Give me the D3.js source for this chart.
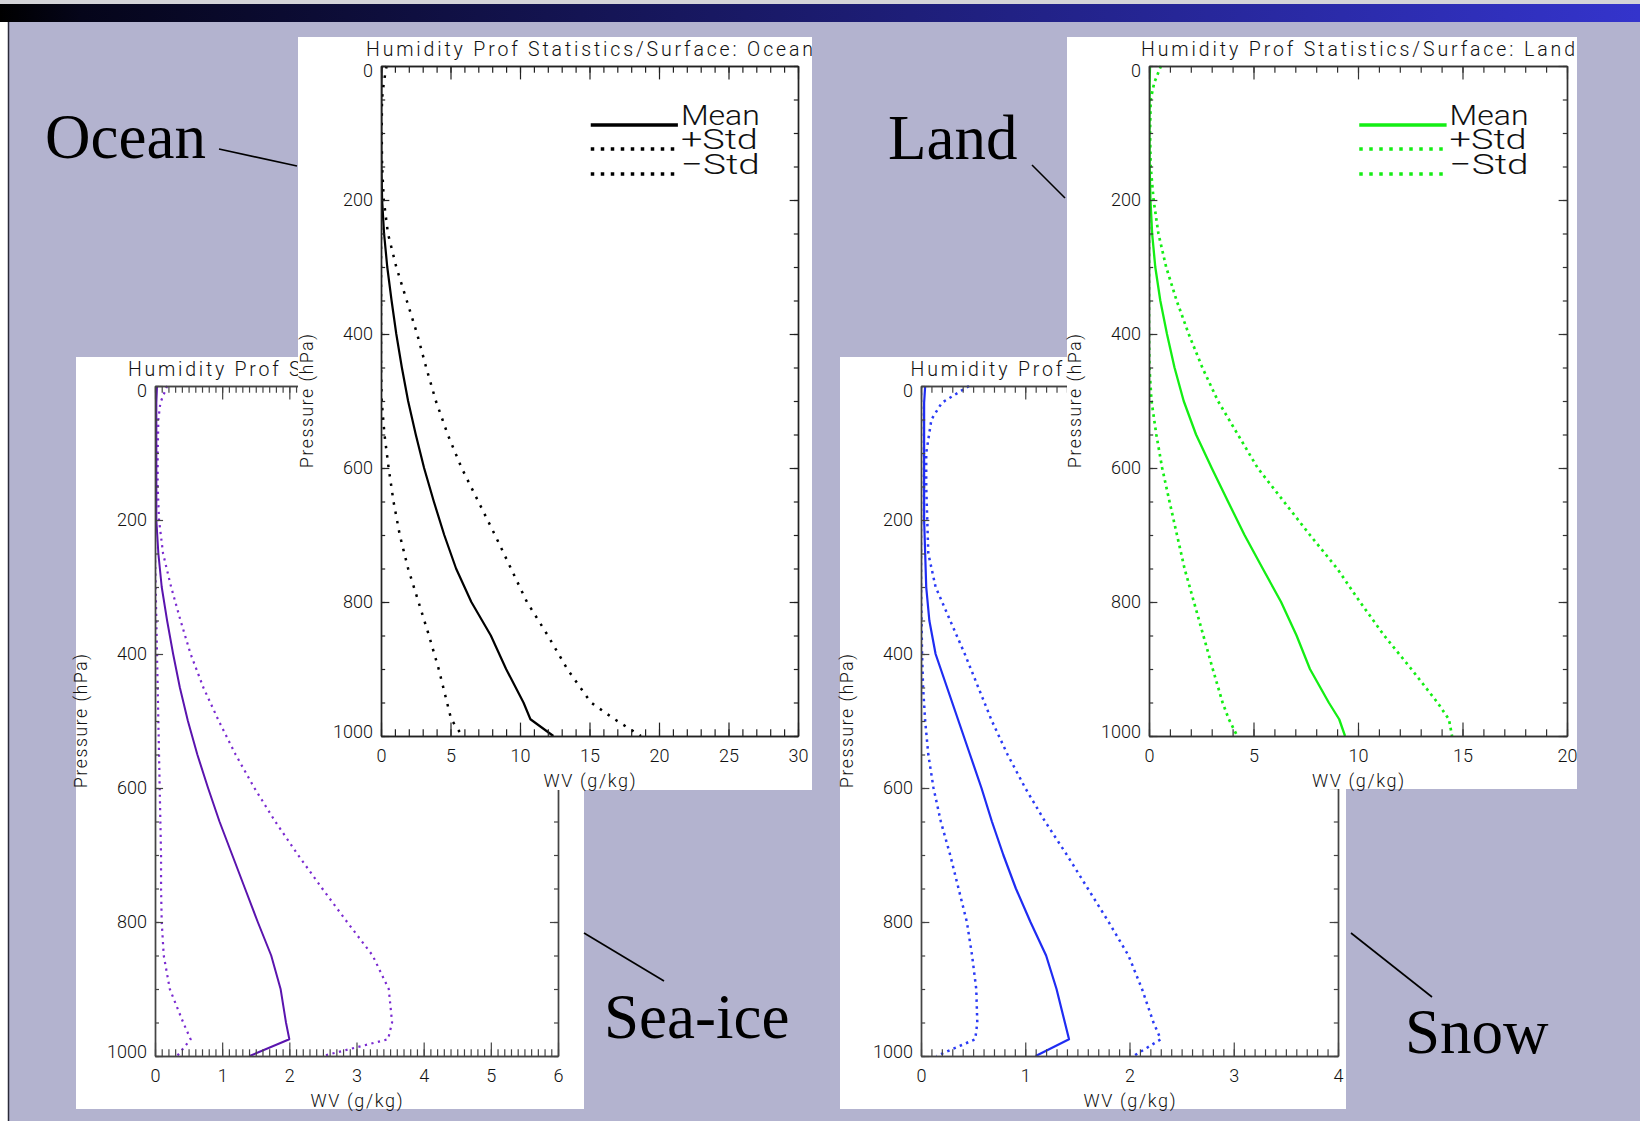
<!DOCTYPE html>
<html>
<head>
<meta charset="utf-8">
<script src="https://cdn.jsdelivr.net/npm/d3@7"></script>
<style>
  html, body { margin: 0; padding: 0; background: #ffffff; overflow: hidden; }
  svg { display: block; }
</style>
</head>
<body>
<svg id="slide" width="1640" height="1121"></svg>
<script>
// Pressure levels (hPa) shared by every humidity profile
const pressureLevels = [0, 25, 50, 100, 150, 200, 250, 300, 350, 400, 450, 500, 550, 600, 650, 700, 750, 800, 850, 900, 950, 975, 1000];

// Water vapour mixing ratio (g/kg) at each level: mean and mean ± one standard deviation
const oceanMean  = [0.05, 0.03, 0.02, 0.02, 0.03, 0.08, 0.22, 0.45, 0.76, 1.1, 1.5, 1.95, 2.5, 3.1, 3.8, 4.55, 5.4, 6.5, 7.9, 9.0, 10.25, 10.75, 12.4];
const oceanPlus  = [0.4, 0.2, 0.07, 0.05, 0.08, 0.2, 0.5, 1.1, 1.85, 2.6, 3.25, 3.95, 4.8, 5.8, 7.0, 8.2, 9.35, 10.5, 12.0, 13.4, 15.1, 16.8, 18.7];
const oceanMinus = [0, 0, 0, 0, 0, 0, 0, 0, 0, 0, 0, 0.05, 0.25, 0.55, 0.9, 1.35, 1.95, 2.7, 3.45, 4.15, 4.75, 5.05, 5.85];

const landMean  = [0.05, 0.03, 0.02, 0.02, 0.03, 0.07, 0.15, 0.3, 0.54, 0.86, 1.22, 1.66, 2.25, 3.0, 3.78, 4.57, 5.44, 6.32, 7.06, 7.7, 8.6, 9.1, 9.38];
const landPlus  = [0.57, 0.25, 0.08, 0.05, 0.08, 0.22, 0.45, 0.82, 1.32, 1.9, 2.55, 3.3, 4.25, 5.2, 6.45, 7.7, 9.0, 10.1, 11.25, 12.55, 13.8, 14.35, 14.5];
const landMinus = [0, 0, 0, 0, 0, 0, 0, 0, 0, 0, 0.02, 0.12, 0.35, 0.63, 0.98, 1.34, 1.7, 2.15, 2.6, 3.05, 3.52, 3.82, 4.22];

const seaIceMean  = [0.03, 0.02, 0.02, 0.02, 0.02, 0.02, 0.05, 0.1, 0.18, 0.27, 0.37, 0.49, 0.63, 0.79, 0.96, 1.15, 1.34, 1.53, 1.73, 1.87, 1.95, 2.0, 1.41];
const seaIcePlus  = [0.18, 0.08, 0.05, 0.04, 0.04, 0.06, 0.12, 0.24, 0.38, 0.53, 0.72, 0.95, 1.2, 1.48, 1.79, 2.13, 2.49, 2.86, 3.24, 3.48, 3.53, 3.47, 2.5];
const seaIceMinus = [0, 0, 0, 0, 0, 0, 0, 0.01, 0.02, 0.03, 0.04, 0.05, 0.06, 0.07, 0.08, 0.09, 0.09, 0.1, 0.13, 0.22, 0.42, 0.53, 0.33];

const snowMean  = [0.04, 0.03, 0.03, 0.03, 0.03, 0.03, 0.04, 0.05, 0.08, 0.14, 0.25, 0.36, 0.47, 0.58, 0.68, 0.79, 0.91, 1.05, 1.2, 1.3, 1.38, 1.42, 1.1];
const snowPlus  = [0.46, 0.2, 0.1, 0.05, 0.05, 0.06, 0.07, 0.14, 0.28, 0.42, 0.55, 0.68, 0.83, 1.0, 1.19, 1.4, 1.6, 1.8, 1.99, 2.12, 2.23, 2.3, 2.04];
const snowMinus = [0, 0, 0, 0, 0, 0, 0, 0, 0.005, 0.01, 0.02, 0.04, 0.07, 0.12, 0.19, 0.28, 0.36, 0.44, 0.49, 0.53, 0.54, 0.52, 0.15];

// Axis ticks
const pressureTicks = [0, 200, 400, 600, 800, 1000];
const pressureMinorTicks = d3.range(0, 1001, 50);
const oceanWvTicks  = [0, 5, 10, 15, 20, 25, 30];
const landWvTicks   = [0, 5, 10, 15, 20];
const seaIceWvTicks = [0, 1, 2, 3, 4, 5, 6];
const snowWvTicks   = [0, 1, 2, 3, 4];

// Legend and axis texts
const legendLabels = ["Mean", "+Std", "\u2212Std"];
const surfaceNames = { ocean: "Ocean", land: "Land", seaIce: "Sea-ice", snow: "Snow" };
const titlePrefix = "Humidity Prof Statistics/Surface: ";
const xAxisTitle = "WV (g/kg)";
const yAxisTitle = "Pressure (hPa)";

const plotFont = "Roboto, 'Liberation Sans', 'DejaVu Sans', sans-serif";
const labelFont = "'Liberation Serif', 'Times New Roman', serif";

const svg = d3.select("#slide");
const defs = svg.append("defs");

// ---- slide background ----
const grad = defs.append("linearGradient").attr("id", "topbar").attr("x1", "0%").attr("x2", "100%");
grad.append("stop").attr("offset", "0%").attr("stop-color", "#000000");
grad.append("stop").attr("offset", "5%").attr("stop-color", "#05051a");
grad.append("stop").attr("offset", "100%").attr("stop-color", "#3434cc");

svg.append("rect").attr("x", 0).attr("y", 0).attr("width", 1640).attr("height", 1121).attr("fill", "#ffffff");
svg.append("rect").attr("x", 0).attr("y", 0).attr("width", 1640).attr("height", 4).attr("fill", "#d4d4d8");
svg.append("rect").attr("x", 0).attr("y", 4).attr("width", 1640).attr("height", 18).attr("fill", "url(#topbar)");
svg.append("rect").attr("x", 9).attr("y", 22).attr("width", 1631).attr("height", 1099).attr("fill", "#b3b3cf");
svg.append("line").attr("x1", 8.5).attr("x2", 8.5).attr("y1", 22).attr("y2", 1121)
  .attr("stroke", "#2a2a3a").attr("stroke-width", 1.5);

// ---- one profile panel ----
function drawPanel(cfg) {
  const g = svg.append("g");
  const P = cfg.plot;

  g.append("rect")
    .attr("x", cfg.panel.x).attr("y", cfg.panel.y)
    .attr("width", cfg.panel.w).attr("height", cfg.panel.h)
    .attr("fill", "#ffffff");

  const x = d3.scaleLinear().domain([0, cfg.xMax]).range([P.l, P.r]);
  const y = d3.scaleLinear().domain([0, 1000]).range([P.t, P.b]);
  const W = P.r - P.l;

  // title (clipped where a neighbouring panel covers it)
  const titleClip = "tclip-" + cfg.key;
  defs.append("clipPath").attr("id", titleClip)
    .append("rect").attr("x", cfg.panel.x).attr("y", cfg.panel.y)
    .attr("width", cfg.titleVisible).attr("height", 40);
  g.append("text")
    .attr("clip-path", `url(#${titleClip})`)
    .attr("x", (P.l + P.r) / 2).attr("y", P.t - 10)
    .attr("text-anchor", "middle")
    .attr("textLength", cfg.titleWidth).attr("lengthAdjust", "spacing")
    .attr("font-family", plotFont).attr("font-weight", 300)
    .attr("font-size", 19.5).attr("fill", "#111")
    .text(titlePrefix + cfg.name);

  // profiles
  const clipId = "clip-" + cfg.key;
  defs.append("clipPath").attr("id", clipId)
    .append("rect").attr("x", P.l).attr("y", P.t - 2).attr("width", W + 1).attr("height", P.b - P.t + 3);

  const line = d3.line()
    .x(d => x(d.v))
    .y(d => y(d.p));
  const toPoints = arr => arr.map((v, i) => ({ p: pressureLevels[i], v }));

  const curves = g.append("g").attr("clip-path", `url(#${clipId})`).attr("fill", "none");
  [cfg.minus, cfg.plus].forEach(arr => {
    curves.append("path")
      .attr("d", line(toPoints(arr)))
      .attr("stroke", cfg.dotColor)
      .attr("stroke-width", cfg.dotWidth)
      .attr("stroke-dasharray", cfg.dash)
      .attr("stroke-linecap", "butt");
  });
  curves.append("path")
    .attr("d", line(toPoints(cfg.mean)))
    .attr("stroke", cfg.color)
    .attr("stroke-width", cfg.meanWidth)
    .attr("stroke-linejoin", "round");

  // axes (ticks pointing inwards on all four sides)
  const xMinor = d3.range(0, cfg.xMax + cfg.minorStep / 2, cfg.minorStep);
  const axisColor = cfg.axisColor;
  const styleAxis = sel => {
    sel.select(".domain").attr("stroke", axisColor).attr("stroke-width", 1.4);
    sel.selectAll(".tick line").attr("stroke", axisColor).attr("stroke-width", 1.2);
    sel.selectAll(".tick text").attr("fill", "#111").attr("font-size", 18)
      .attr("font-family", plotFont).attr("font-weight", 300);
    sel.attr("font-family", null).attr("font-size", null);
  };

  g.append("g").attr("transform", `translate(0,${P.b})`)
    .call(d3.axisBottom(x).tickValues(xMinor).tickSize(-6.7).tickSizeOuter(0).tickFormat(""))
    .call(styleAxis);
  g.append("g").attr("transform", `translate(0,${P.b})`)
    .call(d3.axisBottom(x).tickValues(cfg.xTicks).tickSize(-13.4).tickSizeOuter(0).tickPadding(13).tickFormat(d3.format("d")))
    .call(styleAxis);
  g.append("g").attr("transform", `translate(0,${P.t})`)
    .call(d3.axisTop(x).tickValues(xMinor).tickSize(-6.7).tickSizeOuter(0).tickFormat(""))
    .call(styleAxis);
  g.append("g").attr("transform", `translate(0,${P.t})`)
    .call(d3.axisTop(x).tickValues(cfg.xTicks).tickSize(-13.4).tickSizeOuter(0).tickFormat(""))
    .call(styleAxis);

  const yLen = W * 0.02;
  g.append("g").attr("transform", `translate(${P.l},0)`)
    .call(d3.axisLeft(y).tickValues(pressureMinorTicks).tickSize(-yLen / 2).tickSizeOuter(0).tickFormat(""))
    .call(styleAxis);
  const yAxis = g.append("g").attr("transform", `translate(${P.l},0)`)
    .call(d3.axisLeft(y).tickValues(pressureTicks).tickSize(-yLen).tickSizeOuter(0).tickPadding(8).tickFormat(d3.format("d")))
    .call(styleAxis);
  // end labels sit just inside the axis range
  yAxis.selectAll(".tick text").attr("dy", d => d === 0 ? "0.6em" : d === 1000 ? "0.1em" : "0.32em");
  g.append("g").attr("transform", `translate(${P.r},0)`)
    .call(d3.axisRight(y).tickValues(pressureMinorTicks).tickSize(-yLen / 2).tickSizeOuter(0).tickFormat(""))
    .call(styleAxis);
  g.append("g").attr("transform", `translate(${P.r},0)`)
    .call(d3.axisRight(y).tickValues(pressureTicks).tickSize(-yLen).tickSizeOuter(0).tickFormat(""))
    .call(styleAxis);

  // axis titles
  g.append("text")
    .attr("x", (P.l + P.r) / 2).attr("y", P.b + 51)
    .attr("text-anchor", "middle")
    .attr("textLength", 92).attr("lengthAdjust", "spacing")
    .attr("font-family", plotFont).attr("font-weight", 300)
    .attr("font-size", 18).attr("fill", "#111")
    .text(xAxisTitle);
  g.append("text")
    .attr("transform", `translate(${P.l - 68},${(P.t + P.b) / 2}) rotate(-90)`)
    .attr("text-anchor", "middle")
    .attr("textLength", 134).attr("lengthAdjust", "spacing")
    .attr("font-family", plotFont).attr("font-weight", 300)
    .attr("font-size", 17.5).attr("fill", "#111")
    .text(yAxisTitle);

  // legend (only where it is not covered by a neighbouring panel)
  if (cfg.legend) {
    const lx1 = P.l + 0.503 * W, lx2 = P.l + 0.712 * W;
    const rows = [59, 83, 108];
    const widths = [79, 77, 79];
    legendLabels.forEach((lab, i) => {
      const ly = P.t + rows[i];
      g.append("line")
        .attr("x1", lx1).attr("x2", lx2).attr("y1", ly).attr("y2", ly)
        .attr("stroke", i === 0 ? cfg.color : cfg.dotColor)
        .attr("stroke-width", 3.5)
        .attr("stroke-dasharray", i === 0 ? null : "3.5,6.5");
      g.append("text")
        .attr("x", lx2 + 3).attr("y", ly)
        .attr("textLength", widths[i]).attr("lengthAdjust", "spacingAndGlyphs")
        .attr("font-family", plotFont).attr("font-weight", 300)
        .attr("font-size", 28).attr("fill", "#111")
        .text(lab);
    });
  }
}

// Lower panels first, the upper ones overlap them
const panels = [
  { key: "seaIce", name: surfaceNames.seaIce, mean: seaIceMean, plus: seaIcePlus, minus: seaIceMinus,
    panel: { x: 76, y: 357, w: 508, h: 752 }, plot: { l: 155, t: 386, r: 558, b: 1056 },
    xMax: 6, xTicks: seaIceWvTicks, minorStep: 0.1, titleWidth: 457, titleVisible: 222, legend: false,
    color: "#5a14ae", dotColor: "#7a2ad0", meanWidth: 2, dotWidth: 2.2, dash: "2.2,4.5", axisColor: "#444" },
  { key: "snow", name: surfaceNames.snow, mean: snowMean, plus: snowPlus, minus: snowMinus,
    panel: { x: 840, y: 357, w: 506, h: 752 }, plot: { l: 921, t: 386, r: 1338, b: 1056 },
    xMax: 4, xTicks: snowWvTicks, minorStep: 0.1, titleWidth: 438, titleVisible: 227, legend: false,
    color: "#1f2cf2", dotColor: "#2a3af5", meanWidth: 2.2, dotWidth: 2.5, dash: "2.5,4.3", axisColor: "#444" },
  { key: "ocean", name: surfaceNames.ocean, mean: oceanMean, plus: oceanPlus, minus: oceanMinus,
    panel: { x: 298, y: 37, w: 514, h: 753 }, plot: { l: 381, t: 66, r: 798, b: 736 },
    xMax: 30, xTicks: oceanWvTicks, minorStep: 1, titleWidth: 447, titleVisible: 514, legend: true,
    color: "#000000", dotColor: "#000000", meanWidth: 2.2, dotWidth: 2.5, dash: "2.5,7", axisColor: "#222" },
  { key: "land", name: surfaceNames.land, mean: landMean, plus: landPlus, minus: landMinus,
    panel: { x: 1067, y: 37, w: 510, h: 752 }, plot: { l: 1149, t: 66, r: 1567, b: 736 },
    xMax: 20, xTicks: landWvTicks, minorStep: 1, titleWidth: 434, titleVisible: 510, legend: true,
    color: "#14ee14", dotColor: "#14ee14", meanWidth: 2.3, dotWidth: 2.7, dash: "2.7,4", axisColor: "#333" }
];
panels.forEach(drawPanel);

// ---- surface labels with pointer lines ----
const labels = [
  { text: surfaceNames.ocean,  x: 45,   y: 158,  line: [219, 149, 297, 166] },
  { text: surfaceNames.land,   x: 888,  y: 159,  line: [1032, 165, 1065, 198] },
  { text: surfaceNames.seaIce, x: 604,  y: 1038, line: [584, 933, 664, 981] },
  { text: surfaceNames.snow,   x: 1405, y: 1053, line: [1351, 933, 1432, 997] }
];
labels.forEach(d => {
  svg.append("text")
    .attr("x", d.x).attr("y", d.y)
    .attr("font-family", labelFont).attr("font-size", 63).attr("fill", "#000")
    .text(d.text);
  svg.append("line")
    .attr("x1", d.line[0]).attr("y1", d.line[1]).attr("x2", d.line[2]).attr("y2", d.line[3])
    .attr("stroke", "#000").attr("stroke-width", 1.6);
});
</script>
</body>
</html>
